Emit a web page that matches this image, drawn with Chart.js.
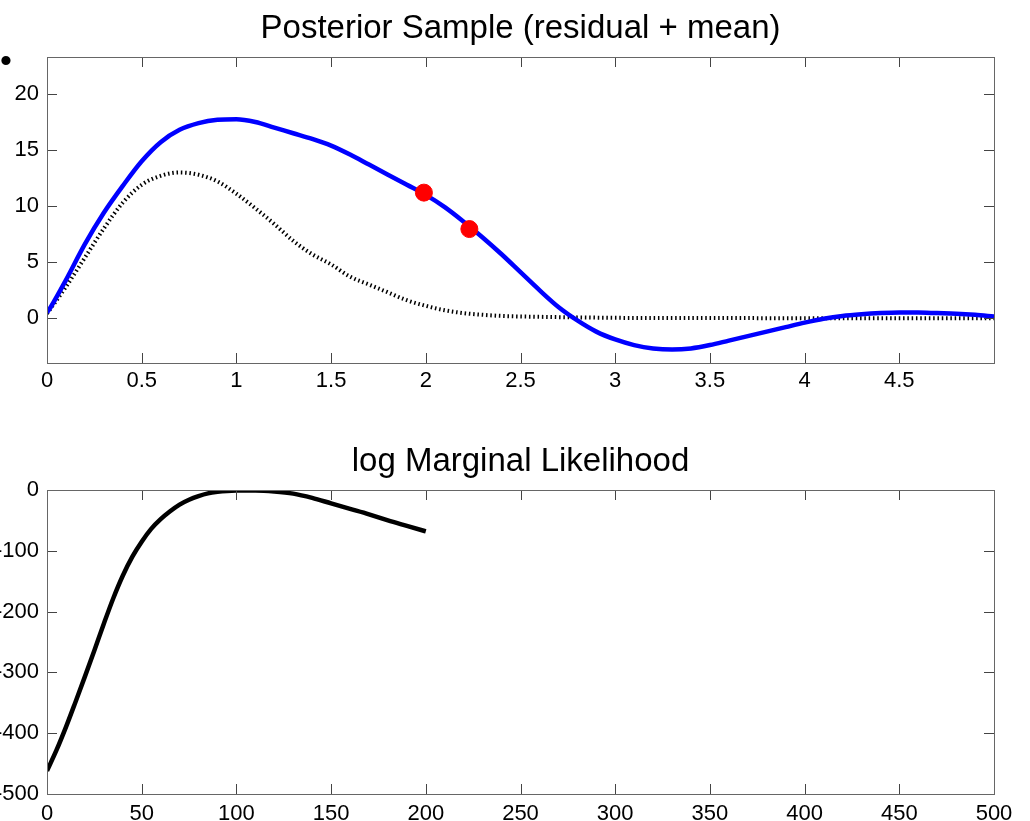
<!DOCTYPE html>
<html>
<head>
<meta charset="utf-8">
<script src="https://cdn.jsdelivr.net/npm/chart.js@4.4.1/dist/chart.umd.min.js"></script>
<style>
  html, body { margin: 0; padding: 0; background: #fff; }
  #wrap { position: relative; width: 1030px; height: 821px; overflow: hidden; }
  canvas { position: absolute; left: 0; }
  #topChart { top: 0; }
  #bottomChart { top: 420px; }
  .dot { position: absolute; left: 0; top: 41px; font: 34px "Liberation Sans", Arial, sans-serif; color: #000; }
</style>
</head>
<body>
<div id="wrap">
  <canvas id="topChart" width="1030" height="420"></canvas>
  <canvas id="bottomChart" width="1030" height="401"></canvas>
  <span class="dot">•</span>
</div>
<script>
// posterior sample (blue)
const sampleX = [0, 0.02, 0.1, 0.2, 0.3, 0.4, 0.5, 0.6, 0.7, 0.8, 0.9, 1.0, 1.1, 1.2, 1.3, 1.4, 1.5, 1.6, 1.7, 1.8, 1.9, 2.0,
  2.1, 2.2, 2.3, 2.4, 2.5, 2.6, 2.7, 2.8, 2.9, 3.0, 3.1, 3.2, 3.3, 3.4, 3.5, 3.6, 3.7, 3.8, 3.9, 4.0, 4.1, 4.2, 4.3, 4.4,
  4.5, 4.6, 4.7, 4.8, 4.9, 5.0];
const sampleY = [0.5, 1.0, 3.4, 6.6, 9.4, 11.8, 14.0, 15.7, 16.8, 17.4, 17.7, 17.75, 17.5, 17.0, 16.5, 16.0, 15.4, 14.6,
  13.7, 12.8, 11.9, 11.0, 9.9, 8.6, 7.2, 5.7, 4.1, 2.5, 1.0, -0.2, -1.2, -1.9, -2.4, -2.7, -2.8, -2.7, -2.4, -2.0, -1.6,
  -1.2, -0.8, -0.4, -0.05, 0.2, 0.35, 0.45, 0.5, 0.5, 0.45, 0.4, 0.3, 0.15];

// mean (dotted black)
const meanX = [0, 0.1, 0.2, 0.3, 0.4, 0.5, 0.6, 0.7, 0.8, 0.9, 1.0, 1.1, 1.2, 1.3, 1.4, 1.5, 1.6, 1.7, 1.8, 1.9, 2.0, 2.1,
  2.2, 2.3, 2.4, 2.6, 2.8, 3.0, 3.5, 4.0, 5.0];
const meanY = [0.4, 2.8, 5.4, 8.0, 10.3, 11.9, 12.7, 13.0, 12.8, 12.2, 11.1, 9.8, 8.4, 6.9, 5.7, 4.8, 3.7, 3.0, 2.3, 1.6,
  1.1, 0.7, 0.45, 0.3, 0.2, 0.12, 0.07, 0.03, 0.01, 0, 0];

// observed points (red)
const pickX = [1.99, 2.23];
const pickY = [11.2, 7.95];

const topXTicks = [0, 0.5, 1, 1.5, 2, 2.5, 3, 3.5, 4, 4.5];
const topYTicks = [0, 5, 10, 15, 20];

// log marginal likelihood
const lmlX = [0, 5, 10, 15, 20, 25, 30, 35, 40, 45, 50, 55, 60, 65, 70, 75, 80, 85, 90, 95, 100, 110, 120, 130, 140, 150,
  160, 170, 180, 190, 200];
const lmlY = [-462, -428, -390, -349, -307, -264, -220, -178, -141, -110, -85, -64, -48, -35, -24, -16, -10, -5.5, -3,
  -1.5, -1, -1, -2.5, -6, -13, -22, -31, -40, -50, -59, -68];

const bottomXTicks = [0, 50, 100, 150, 200, 250, 300, 350, 400, 450, 500];
const bottomYTicks = [0, -100, -200, -300, -400, -500];

Chart.defaults.font.family = '"Liberation Sans", Arial, sans-serif';
Chart.defaults.font.size = 22;
Chart.defaults.color = '#000';

const pts = (xs, ys) => xs.map((x, i) => ({ x, y: ys[i] }));

// matlab style box, inward ticks and title
const boxPlugin = {
  id: 'box',
  afterDraw(chart, args, opts) {
    const { ctx, chartArea: a, scales: { x, y } } = chart;
    ctx.save();
    ctx.strokeStyle = '#444';
    ctx.lineWidth = 1;
    ctx.beginPath();
    x.ticks.forEach(t => {
      const px = Math.round(x.getPixelForValue(t.value)) + 0.5;
      if (px <= a.left + 1 || px >= a.right - 1) return;
      ctx.moveTo(px, a.bottom); ctx.lineTo(px, a.bottom - 10);
      ctx.moveTo(px, a.top); ctx.lineTo(px, a.top + 10);
    });
    y.ticks.forEach(t => {
      const py = Math.round(y.getPixelForValue(t.value)) + 0.5;
      if (py <= a.top + 1 || py >= a.bottom - 1) return;
      ctx.moveTo(a.left, py); ctx.lineTo(a.left + 10, py);
      ctx.moveTo(a.right, py); ctx.lineTo(a.right - 10, py);
    });
    ctx.stroke();
    ctx.strokeStyle = '#666';
    ctx.strokeRect(Math.round(a.left) + 0.5, Math.round(a.top) + 0.5,
      Math.round(a.right - a.left), Math.round(a.bottom - a.top));
    ctx.fillStyle = '#000';
    ctx.font = '33px "Liberation Sans", Arial, sans-serif';
    ctx.textAlign = 'center';
    ctx.textBaseline = 'alphabetic';
    ctx.fillText(opts.text, (a.left + a.right) / 2, a.top - 19);
    ctx.restore();
  }
};

function axes(xMin, xMax, xTicks, yMin, yMax, yTicks, xAxisH, xPad) {
  return {
    x: {
      type: 'linear', min: xMin, max: xMax,
      grid: { display: false, drawTicks: false }, border: { display: false },
      afterBuildTicks: s => { s.ticks = xTicks.map(v => ({ value: v })); },
      afterFit: s => { s.height = xAxisH; },
      ticks: { padding: xPad, maxRotation: 0, autoSkip: false, callback: v => String(v) }
    },
    y: {
      type: 'linear', min: yMin, max: yMax,
      grid: { display: false, drawTicks: false }, border: { display: false },
      afterBuildTicks: s => { s.ticks = yTicks.map(v => ({ value: v })); },
      afterFit: s => { s.width = 47; },
      ticks: { padding: 8, autoSkip: false, callback: v => String(v) }
    }
  };
}

new Chart(document.getElementById('topChart'), {
  type: 'line',
  data: {
    datasets: [
      { type: 'scatter', data: pts(pickX, pickY), backgroundColor: '#ff0000', borderColor: '#ff0000',
        pointRadius: 8.5, pointHoverRadius: 8.5, showLine: false },
      { data: pts(sampleX, sampleY), borderColor: '#0000ff', borderWidth: 4.5, pointRadius: 0,
        cubicInterpolationMode: 'monotone', fill: false },
      { data: pts(meanX, meanY), borderColor: '#000', borderWidth: 4, borderDash: [1.5, 2.8],
        borderCapStyle: 'butt', pointRadius: 0, cubicInterpolationMode: 'monotone', fill: false }
    ]
  },
  options: {
    responsive: false, animation: false, events: [],
    layout: { padding: { top: 57, right: 36, left: 0, bottom: 0 } },
    scales: axes(0, 5, topXTicks, -4, 23.3, topYTicks, 57, 5),
    plugins: { legend: { display: false }, tooltip: { enabled: false },
      box: { text: 'Posterior Sample (residual + mean)' } }
  },
  plugins: [boxPlugin]
});

new Chart(document.getElementById('bottomChart'), {
  type: 'line',
  data: {
    datasets: [
      { data: pts(lmlX, lmlY), borderColor: '#000', borderWidth: 4.5, pointRadius: 0,
        cubicInterpolationMode: 'monotone', fill: false }
    ]
  },
  options: {
    responsive: false, animation: false, events: [],
    layout: { padding: { top: 70, right: 36, left: 0, bottom: 0 } },
    scales: axes(0, 500, bottomXTicks, -500, 0, bottomYTicks, 27, 7),
    plugins: { legend: { display: false }, tooltip: { enabled: false },
      box: { text: 'log Marginal Likelihood' } }
  },
  plugins: [boxPlugin]
});
</script>
</body>
</html>
